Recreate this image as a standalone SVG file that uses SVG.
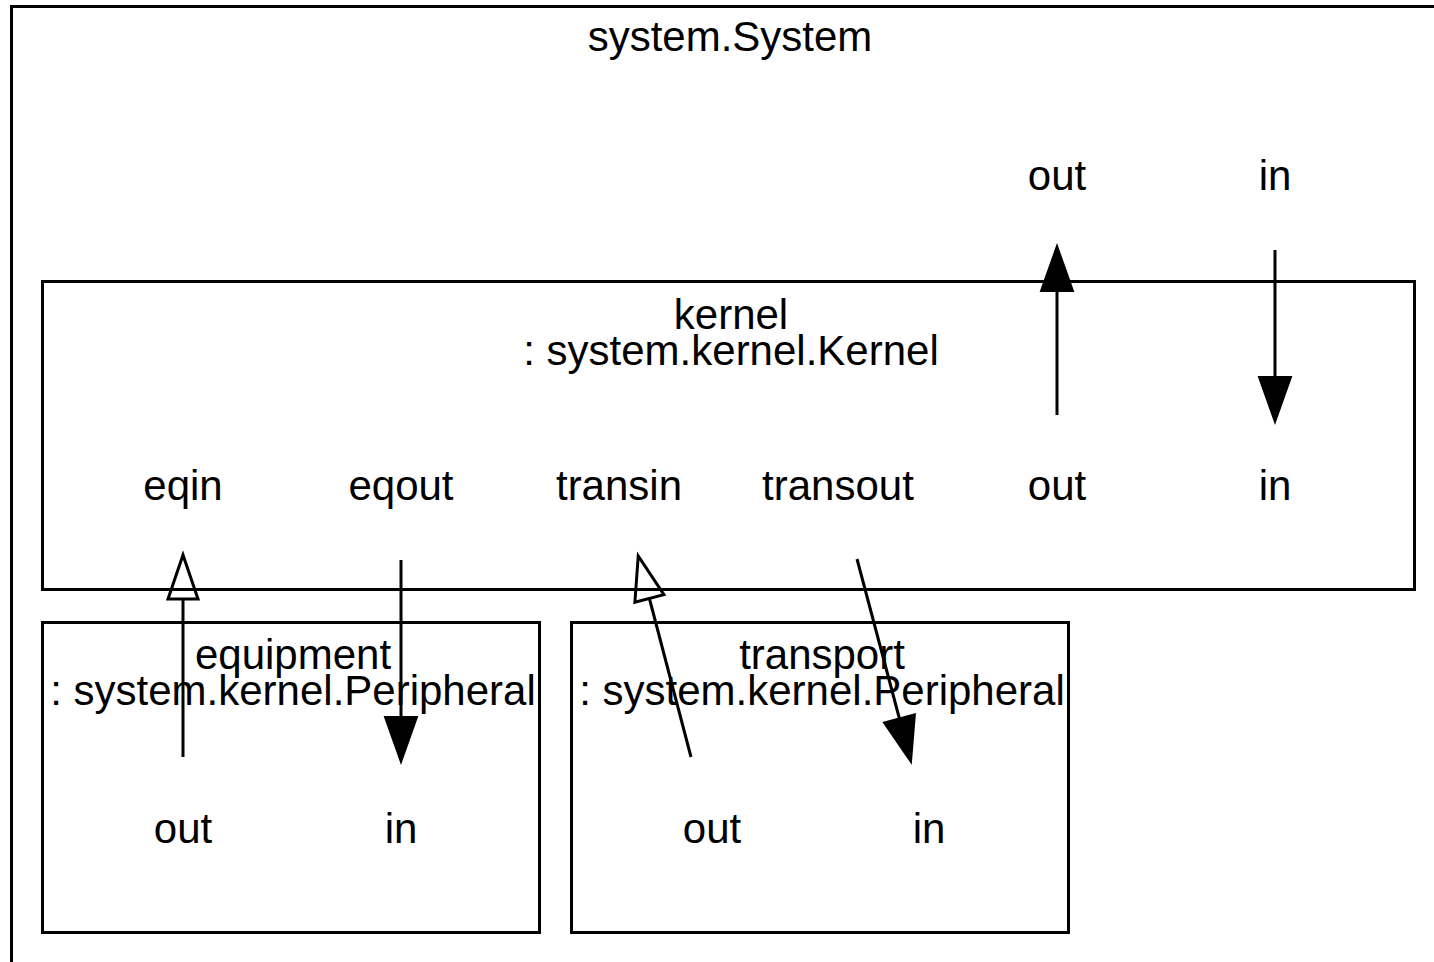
<svg xmlns="http://www.w3.org/2000/svg" width="1434" height="962" viewBox="0 0 1434 962">
<defs>
<style>
.box{fill:none;stroke:#000;stroke-width:3}
.t{font-family:"Liberation Sans",Arial,sans-serif;font-size:42px;fill:#000;text-anchor:middle}
.c{fill:none;stroke:#000;stroke-width:3}
.f{marker-end:url(#filled)}
.o{marker-end:url(#open)}
</style>
<marker id="filled" markerUnits="userSpaceOnUse" markerWidth="50" markerHeight="40" refX="0" refY="16" orient="auto" overflow="visible">
<path d="M0,0 L45,16 L0,32 Z" fill="#000" stroke="#000" stroke-width="2"/>
</marker>
<marker id="open" markerUnits="userSpaceOnUse" markerWidth="50" markerHeight="40" refX="0" refY="15" orient="auto" overflow="visible">
<path d="M0,0 L44,15 L0,30 Z" fill="none" stroke="#000" stroke-width="3"/>
</marker>
</defs>
<rect width="1434" height="962" fill="#fff"/>
<g id="system">
<rect class="box" x="11.5" y="6.5" width="1500" height="1000"/>
<text class="t" x="730" y="51">system.System</text>
<text class="t" x="1057" y="190">out</text>
<text class="t" x="1275" y="190">in</text>
</g>
<g id="kernel">
<rect class="box" x="42.5" y="281.5" width="1372" height="308"/>
<text class="t" x="731" y="329">kernel</text>
<text class="t" x="731" y="365">: system.kernel.Kernel</text>
<text class="t" x="183" y="500">eqin</text>
<text class="t" x="401" y="500">eqout</text>
<text class="t" x="619" y="500">transin</text>
<text class="t" x="838" y="500">transout</text>
<text class="t" x="1057" y="500">out</text>
<text class="t" x="1275" y="500">in</text>
</g>
<g id="equipment">
<rect class="box" x="42.5" y="622.5" width="497" height="310"/>
<text class="t" x="293" y="669">equipment</text>
<text class="t" x="293" y="705">: system.kernel.Peripheral</text>
<text class="t" x="183" y="843">out</text>
<text class="t" x="401" y="843">in</text>
</g>
<g id="transport">
<rect class="box" x="571.5" y="622.5" width="497" height="310"/>
<text class="t" x="822" y="669">transport</text>
<text class="t" x="822" y="705">: system.kernel.Peripheral</text>
<text class="t" x="712" y="843">out</text>
<text class="t" x="929" y="843">in</text>
</g>
<g id="connectors">
<line class="c f" x1="1057" y1="415" x2="1057" y2="291"/>
<line class="c f" x1="1275" y1="250" x2="1275" y2="377"/>
<line class="c o" x1="183" y1="757" x2="183" y2="599"/>
<line class="c f" x1="401" y1="560" x2="401" y2="717"/>
<line class="c o" x1="691" y1="757" x2="649.4" y2="598.5"/>
<line class="c f" x1="857" y1="559" x2="899.4" y2="718.5"/>
</g>
</svg>
